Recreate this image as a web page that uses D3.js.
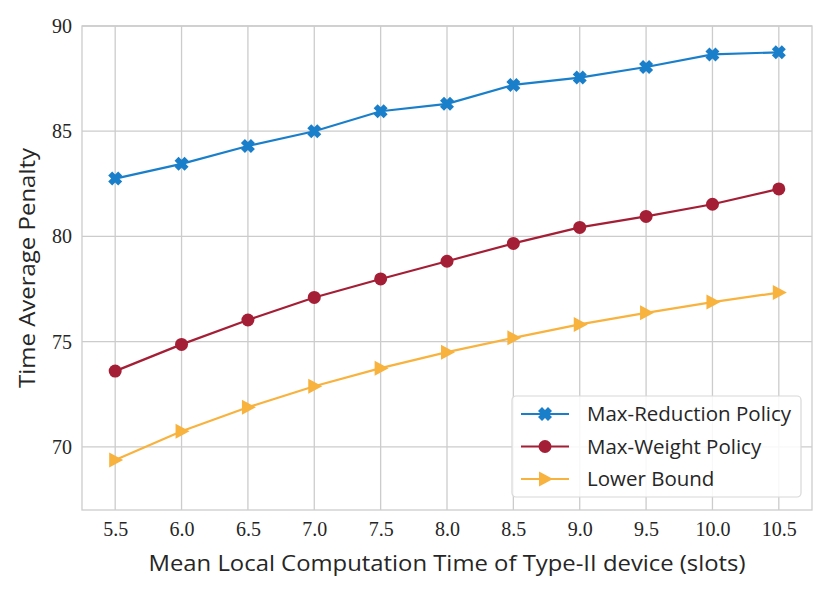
<!DOCTYPE html>
<html>
<head>
<meta charset="utf-8">
<title>Time Average Penalty</title>
<script src="https://cdn.jsdelivr.net/npm/d3@7"></script>
<style>
  body { margin: 0; background: #fff; }
  .tick text { font-family: "Liberation Serif", serif; }
</style>
</head>
<body>
<script>
// data
var meanTime = [5.5, 6.0, 6.5, 7.0, 7.5, 8.0, 8.5, 9.0, 9.5, 10.0, 10.5];
var maxReduction = [82.75, 83.45, 84.3, 85.0, 85.95, 86.3, 87.2, 87.55, 88.05, 88.65, 88.75];
var maxWeight = [73.6, 74.87, 76.03, 77.1, 77.98, 78.82, 79.67, 80.43, 80.95, 81.53, 82.26];
var lowerBound = [69.38, 70.74, 71.88, 72.88, 73.74, 74.5, 75.18, 75.82, 76.37, 76.88, 77.33];
var yTicks = [70, 75, 80, 85, 90];

var series = [
  { name: "Max-Reduction Policy", values: maxReduction, color: "#1a7fca", marker: "x" },
  { name: "Max-Weight Policy", values: maxWeight, color: "#a41f35", marker: "o" },
  { name: "Lower Bound", values: lowerBound, color: "#f8b23e", marker: ">" }
];

var W = 830, H = 593;
var margin = { left: 82, right: 18, top: 26, bottom: 83 };

var svg = d3.select("body").append("svg")
    .attr("width", W)
    .attr("height", H);

var x = d3.scaleLinear().domain([5.25, 10.75]).range([margin.left, W - margin.right]);
var y = d3.scaleLinear().domain([67, 90]).range([H - margin.bottom, margin.top]);

// grid
svg.append("g").selectAll("line").data(meanTime).enter().append("line")
    .attr("x1", d => x(d)).attr("x2", d => x(d))
    .attr("y1", y(67)).attr("y2", y(90))
    .attr("stroke", "#cccccc").attr("stroke-width", 1.3);
svg.append("g").selectAll("line").data(yTicks).enter().append("line")
    .attr("x1", x(5.25)).attr("x2", x(10.75))
    .attr("y1", d => y(d)).attr("y2", d => y(d))
    .attr("stroke", "#cccccc").attr("stroke-width", 1.3);

// frame
svg.append("rect")
    .attr("x", x(5.25)).attr("y", y(90))
    .attr("width", x(10.75) - x(5.25)).attr("height", y(67) - y(90))
    .attr("fill", "none").attr("stroke", "#cccccc").attr("stroke-width", 1.3);

// axes
var xAxis = svg.append("g")
    .attr("transform", "translate(0," + y(67) + ")")
    .call(d3.axisBottom(x).tickValues(meanTime).tickFormat(d3.format(".1f")).tickSize(0).tickPadding(12));
var yAxis = svg.append("g")
    .attr("transform", "translate(" + x(5.25) + ",0)")
    .call(d3.axisLeft(y).tickValues(yTicks).tickSize(0).tickPadding(10));
[xAxis, yAxis].forEach(function (g) {
  g.select(".domain").remove();
  g.selectAll("text").attr("font-size", 20).attr("fill", "#262626");
});

// axis labels
svg.append("text")
    .attr("x", (x(5.25) + x(10.75)) / 2).attr("y", 571)
    .attr("text-anchor", "middle")
    .attr("font-family", "'Open Sans', sans-serif").attr("font-size", 21)
    .attr("fill", "#262626")
    .attr("textLength", 597).attr("lengthAdjust", "spacingAndGlyphs")
    .text("Mean Local Computation Time of Type-II device (slots)");
svg.append("text")
    .attr("transform", "translate(35," + (y(67) + y(90)) / 2 + ") rotate(-90)")
    .attr("text-anchor", "middle")
    .attr("font-family", "'Open Sans', sans-serif").attr("font-size", 21)
    .attr("fill", "#262626")
    .attr("textLength", 240).attr("lengthAdjust", "spacingAndGlyphs")
    .text("Time Average Penalty");

function drawMarker(g, type, color) {
  if (type === "o") {
    g.append("circle").attr("r", 6.5).attr("fill", color);
  } else if (type === "x") {
    g.append("path").attr("fill", color)
      .attr("d", "M-7,-3 L-3,-7 L0,-4 L3,-7 L7,-3 L4,0 L7,3 L3,7 L0,4 L-3,7 L-7,3 L-4,0 Z");
  } else {
    g.append("path").attr("fill", color).attr("d", "M8,0 L-6,-7.5 L-6,7.5 Z");
  }
}

var line = d3.line().x((d, i) => x(meanTime[i])).y(d => y(d));

series.forEach(function (s) {
  var g = svg.append("g");
  g.append("path").datum(s.values)
      .attr("d", line)
      .attr("fill", "none").attr("stroke", s.color).attr("stroke-width", 2.2);
  g.selectAll("g.m").data(s.values).enter().append("g")
      .attr("class", "m")
      .attr("transform", (d, i) => "translate(" + x(meanTime[i]) + "," + y(d) + ")")
      .each(function () { drawMarker(d3.select(this), s.marker, s.color); });
});

// legend
var legend = svg.append("g").attr("transform", "translate(512,396)");
legend.append("rect")
    .attr("width", 289).attr("height", 101).attr("rx", 4)
    .attr("fill", "#ffffff").attr("fill-opacity", 0.85)
    .attr("stroke", "#d8d8d8").attr("stroke-width", 1.2);
series.forEach(function (s, i) {
  var row = legend.append("g").attr("transform", "translate(0," + (18 + i * 32.5) + ")");
  row.append("line").attr("x1", 9).attr("x2", 57)
      .attr("stroke", s.color).attr("stroke-width", 2.2);
  drawMarker(row.append("g").attr("transform", "translate(33,0)"), s.marker, s.color);
  row.append("text").attr("x", 75).attr("y", 7)
      .attr("font-family", "'Open Sans', sans-serif").attr("font-size", 20.5)
      .attr("fill", "#262626")
      .text(s.name);
});
</script>
</body>
</html>
